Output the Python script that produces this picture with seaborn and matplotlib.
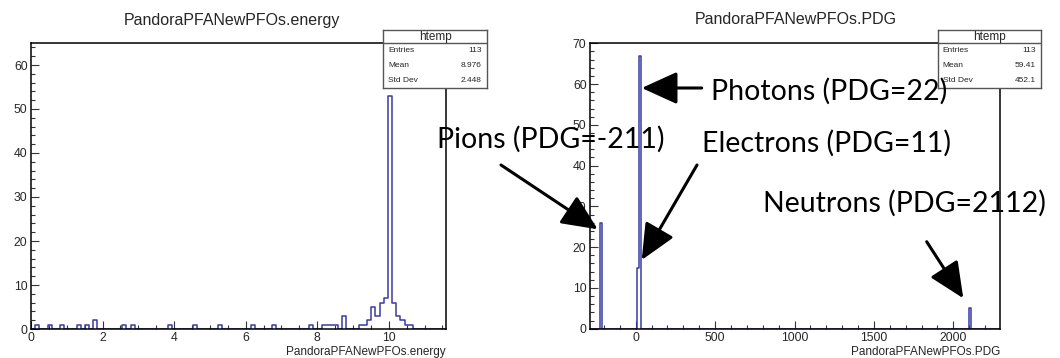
import numpy as np
import pandas as pd
import matplotlib
matplotlib.use("Agg")
import matplotlib.pyplot as plt
from matplotlib.patches import FancyArrowPatch
from matplotlib.ticker import MultipleLocator
import seaborn as sns

# ---------------------------------------------------------
# data (bin position -> entries)
# ---------------------------------------------------------
energy_values = [0.15, 0.5, 0.85, 1.33, 1.55, 1.8, 2.6, 2.8, 3.9, 4.55, 5.27,
                 6.2, 6.78, 7.83, 8.17, 8.29, 8.4, 8.52, 8.75, 9.22, 9.33,
                 9.45, 9.57, 9.68, 9.8, 9.92, 10.03, 10.15, 10.27, 10.38,
                 10.5, 10.61]
energy_counts = [1, 1, 1, 1, 1, 2, 1, 1, 1, 1, 1,
                 1, 1, 1, 1, 1, 1, 1, 3, 1, 1,
                 2, 5, 3, 6, 7, 53, 6, 3, 2,
                 1, 1]
energy_range = (0, 11.6)
energy_bins = 100

pdg_values = [-211, 11, 22, 2112]
pdg_counts = [26, 15, 67, 5]
pdg_range = (-288, 2294)
pdg_bins = 200

stats_energy = [("Entries", "113"), ("Mean", "8.976"), ("Std Dev", "2.448")]
stats_pdg = [("Entries", "113"), ("Mean", "59.41"), ("Std Dev", "452.1")]

labels = ["Photons (PDG=22)", "Pions (PDG=-211)", "Electrons (PDG=11)",
          "Neutrons (PDG=2112)"]

W, H = 1060, 358
LINE = "#3a3aa6"


def px(x, y):
    # image pixel -> figure fraction
    return x / W, 1 - y / H


def style_axes(ax, xmaj, xmin, ymaj, ymin):
    for s in ax.spines.values():
        s.set_visible(True)
        s.set_color("black")
        s.set_linewidth(1.1)
        s.set_zorder(3)
    ax.xaxis.set_major_locator(MultipleLocator(xmaj))
    ax.xaxis.set_minor_locator(MultipleLocator(xmin))
    ax.yaxis.set_major_locator(MultipleLocator(ymaj))
    ax.yaxis.set_minor_locator(MultipleLocator(ymin))
    ax.tick_params(which="both", direction="in", top=False, right=False,
                   labelsize=8.8, color="#333333", pad=2.5)
    ax.tick_params(which="major", length=5.8, width=0.8)
    ax.tick_params(which="minor", length=3.2, width=0.8)
    ax.set_ylabel("")


def stats_box(fig, x0, x1, rows):
    l, b = px(x0, 87.7)
    r, t = px(x1, 30)
    bx = fig.add_axes([l, b, r - l, t - b])
    bx.set_xticks([])
    bx.set_yticks([])
    bx.set_xlim(0, 1)
    bx.set_ylim(0, 1)
    for s in bx.spines.values():
        s.set_color("#555555")
        s.set_linewidth(1.0)
    bx.axhline(0.769, color="#555555", lw=1.0)
    bx.text(0.5, 0.885, "htemp", ha="center", va="center", fontsize=8.5)
    for (name, val), yy in zip(rows, [0.641, 0.388, 0.133]):
        bx.text(0.05, yy, name, ha="left", va="center", fontsize=6)
        bx.text(0.95, yy, val, ha="right", va="center", fontsize=6)


def main():
    sns.set_theme(style="ticks")
    plt.rcParams["font.family"] = ["Liberation Sans", "DejaVu Sans"]

    df_e = pd.DataFrame({"energy": energy_values, "n": energy_counts})
    df_p = pd.DataFrame({"pdg": pdg_values, "n": pdg_counts})

    fig = plt.figure(figsize=(W / 100, H / 100), dpi=100)

    # ---- left: energy ----
    l, b = px(31, 329)
    r, t = px(446, 43)
    ax1 = fig.add_axes([l, b, r - l, t - b])
    sns.histplot(data=df_e, x="energy", weights="n", bins=energy_bins,
                 binrange=energy_range, element="step", fill=False,
                 color=LINE, linewidth=1.1, ax=ax1)
    ax1.set_xlim(*energy_range)
    ax1.set_ylim(0, 65)
    style_axes(ax1, 2, 0.5, 10, 2)
    ax1.set_xlabel("PandoraPFANewPFOs.energy", loc="right", fontsize=8.5,
                   labelpad=1)
    fig.text(232 / W, 1 - 20 / H, "PandoraPFANewPFOs.energy", ha="center",
             va="center", fontsize=11.5)

    # ---- right: PDG ----
    l, b = px(590, 328.7)
    r, t = px(1000, 43.3)
    ax2 = fig.add_axes([l, b, r - l, t - b])
    sns.histplot(data=df_p, x="pdg", weights="n", bins=pdg_bins,
                 binrange=pdg_range, element="step", fill=False,
                 color=LINE, linewidth=1.1, ax=ax2)
    ax2.set_xlim(*pdg_range)
    ax2.set_ylim(0, 70)
    style_axes(ax2, 500, 100, 10, 2)
    ax2.set_xlabel("PandoraPFANewPFOs.PDG", loc="right", fontsize=8.5,
                   labelpad=1)
    fig.text(796 / W, 1 - 20 / H, "PandoraPFANewPFOs.PDG", ha="center",
             va="center", fontsize=11.5)

    stats_box(fig, 383, 487, stats_energy)
    stats_box(fig, 937.7, 1040.7, stats_pdg)

    # ---- annotations ----
    text_pos = [(828.8, 100), (550.5, 148), (826, 152), (904, 211.7)]
    for s, (x, y) in zip(labels, text_pos):
        fig.text(*px(x, y), s, ha="center", va="baseline", fontsize=20.5,
                 family=["Lato", "DejaVu Sans"], color="black", zorder=10)

    arrows = [((701.7, 88), (641.7, 88)),
              ((501, 165), (597.7, 229.3)),
              ((697, 165), (641.7, 260)),
              ((926.7, 241.7), (963.3, 298.3))]
    for tail, tip in arrows:
        a = FancyArrowPatch(px(*tail), px(*tip), transform=fig.transFigure,
                            arrowstyle="-|>,head_length=1.1,head_width=0.5",
                            mutation_scale=20, lw=2.2, color="black",
                            shrinkA=0, shrinkB=0, zorder=10)
        fig.add_artist(a)

    fig.savefig("out.png", dpi=100)


if __name__ == "__main__":
    main()
